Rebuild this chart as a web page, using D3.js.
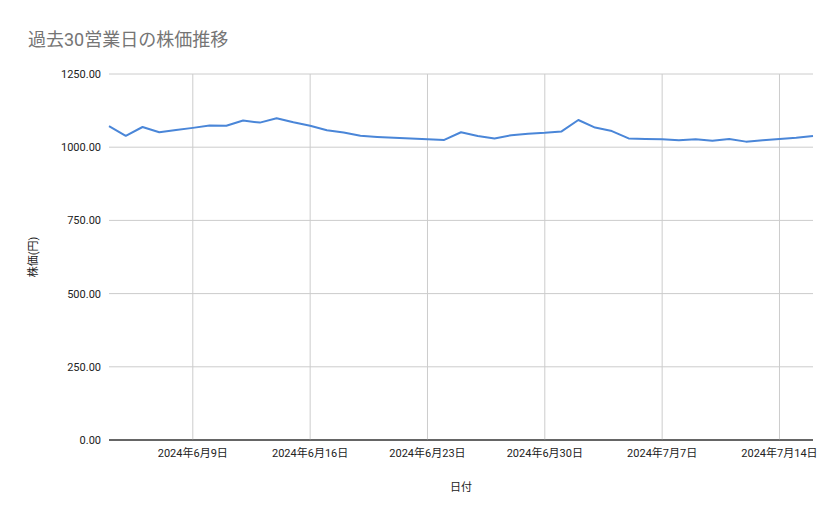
<!DOCTYPE html><html><head><meta charset="utf-8">
<script src="https://cdn.jsdelivr.net/npm/d3@7"></script>
<style>body{margin:0;background:#fff}text{font-family:Roboto,"Noto Sans CJK JP",sans-serif}</style></head><body>
<svg id="c" width="839" height="519"></svg>
<script>
const startDate = "2024-06-04";
const prices = [1072,1039,1069,1051,1059,1066,1074,1073,1091,1084,1099,1085,1073,1058,1050,1039,1035,1032,1030,1027,1025,1051,1038,1030,1041,1046,1049,1054,1093,1067,1055,1030,1028,1027,1024,1027,1022,1028,1019,1024,1028,1032,1038];
const yTicks = [0,250,500,750,1000,1250];
const xTickDates = ["2024-06-09","2024-06-16","2024-06-23","2024-06-30","2024-07-07","2024-07-14"];
const title = "過去30営業日の株価推移", yTitle = "株価(円)", xTitle = "日付";

const parse = d3.utcParse("%Y-%m-%d");
const s0 = parse(startDate);
const data = prices.map((v,i)=>({d:d3.utcDay.offset(s0,i),v}));
const svg = d3.select("#c");
const L=109,R=813,T=74,B=440;
const x = d3.scaleUtc().domain([data[0].d,data[data.length-1].d]).range([L,R]);
const y = d3.scaleLinear().domain([0,1250]).range([B,T]);
svg.append("text").attr("x",28).attr("y",46).attr("font-size",18).attr("fill","#757575").text(title);
const g=svg.append("g");
yTicks.forEach(t=>{
  g.append("line").attr("x1",L).attr("x2",R).attr("y1",y(t)).attr("y2",y(t)).attr("stroke",t===0?"#333":"#ccc").attr("stroke-width",1);
  g.append("text").attr("x",L-8).attr("y",y(t)+4).attr("text-anchor","end").attr("font-size",11).attr("fill","#222").text(d3.format(".2f")(t));
});
xTickDates.forEach(s=>{
  const d=parse(s), xx=x(d);
  g.append("line").attr("x1",xx).attr("x2",xx).attr("y1",T).attr("y2",B).attr("stroke","#ccc");
  g.append("text").attr("x",xx).attr("y",457).attr("text-anchor","middle").attr("font-size",11).attr("fill","#222")
   .text(`${d.getUTCFullYear()}年${d.getUTCMonth()+1}月${d.getUTCDate()}日`);
});
g.append("line").attr("x1",L).attr("x2",R).attr("y1",B).attr("y2",B).attr("stroke","#333");
svg.append("path").datum(data).attr("fill","none").attr("stroke","#4a86d8").attr("stroke-width",2).attr("stroke-linejoin","round")
  .attr("d",d3.line().x(d=>x(d.d)).y(d=>y(d.v)));
svg.append("text").attr("x",461).attr("y",491).attr("text-anchor","middle").attr("font-size",11).attr("fill","#222").text(xTitle);
svg.append("text").attr("transform","translate(37,257) rotate(-90)").attr("text-anchor","middle").attr("font-size",11).attr("fill","#222").text(yTitle);
</script></body></html>
